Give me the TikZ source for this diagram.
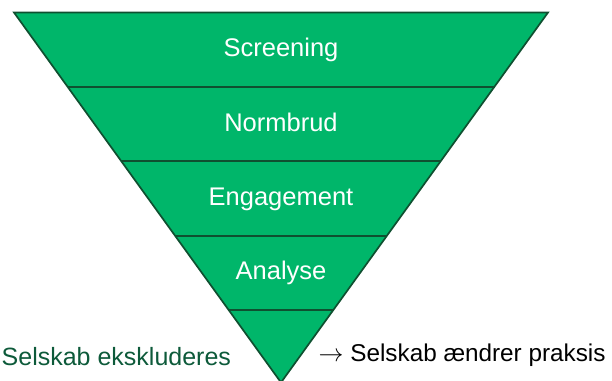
\documentclass[tikz,border=0pt]{standalone}
\usepackage{fontspec}
\setmainfont{Liberation Sans}
\usetikzlibrary{calc}
\definecolor{funnelfill}{HTML}{00B66A}
\definecolor{funneledge}{HTML}{0F5030}
\definecolor{exctext}{HTML}{0D5A3A}
\begin{document}
\begin{tikzpicture}[x=1pt,y=-1pt,
  band/.style={draw=funneledge,line width=1.7pt},
  label/.style={anchor=base,text=white,font=\fontsize{25.5}{30}\selectfont,inner sep=0pt},
  side/.style={anchor=base west,inner sep=0pt}]
\useasboundingbox (0,0) rectangle (612,380);
\coordinate (tl) at (14,12.5);
\coordinate (tr) at (548,12.5);
\coordinate (ap) at (281,382.5);
\fill[funnelfill] (tl) -- (tr) -- (ap) -- cycle;
\foreach \k/\t in {1/0.2011,2/0.4022,3/0.6032,4/0.8043}{
  \coordinate (l\k) at ($(tl)!\t!(ap)$);
  \coordinate (r\k) at ($(tr)!\t!(ap)$);
  \draw[band] (l\k) -- (r\k);
}
\draw[band,line join=miter] (ap) -- (tl) -- (tr) -- cycle;
\node[label] (screening) at (281,56.5) {Screening};
\node[label] (normbrud) at (281,131.5) {Normbrud};
\node[label] (engagement) at (281,205) {Engagement};
\node[label] (analyse) at (281,279.5) {Analyse};
\node[side,text=exctext,font=\fontsize{25}{30}\selectfont] (exclude) at (1.5,365.7) {Selskab ekskluderes};
\node[side,text=black,font=\fontsize{24.3}{30}\selectfont] (change) at (318.5,361.7) {$\rightarrow$ Selskab ændrer praksis};
\end{tikzpicture}
\end{document}
